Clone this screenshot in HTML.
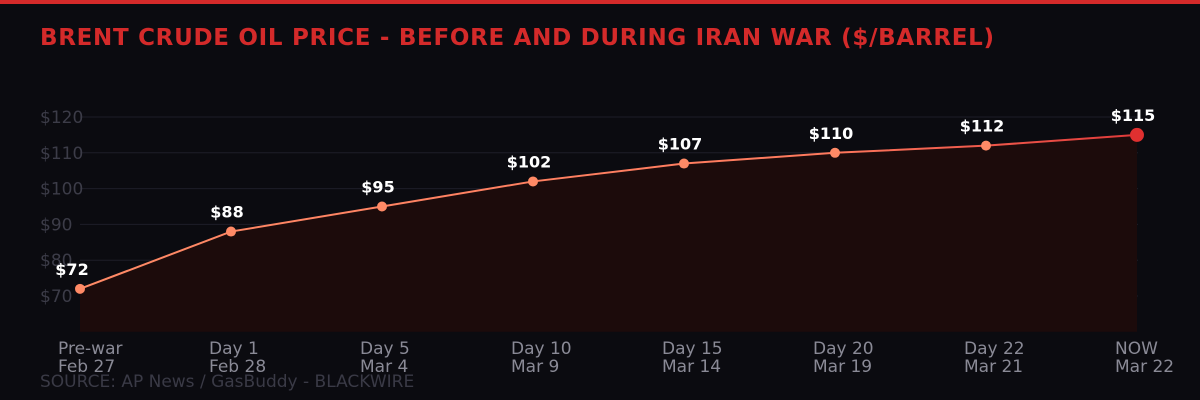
<!DOCTYPE html>
<html><head><meta charset="utf-8"><style>
html,body{margin:0;padding:0;background:#0b0b10;width:1200px;height:400px;overflow:hidden}
svg text{font-family:"DejaVu Sans","Liberation Sans",sans-serif}
</style></head><body>
<svg width="1200" height="400" xmlns="http://www.w3.org/2000/svg">
<defs><linearGradient id="lg" x1="0" x2="1" y1="0" y2="0"><stop offset="0" stop-color="#ff8a66"/><stop offset="0.7" stop-color="#ff7a5e"/><stop offset="1" stop-color="#e03a3a"/></linearGradient></defs>
<rect x="0" y="0" width="1200" height="4" fill="#d42a2a"/>
<text x="40" y="45" font-size="23" font-weight="bold" fill="#d42a2a" letter-spacing="0.7">BRENT CRUDE OIL PRICE - BEFORE AND DURING IRAN WAR ($/BARREL)</text>
<g id="grid"></g><g id="area"></g><g id="marks"></g><g id="xl"></g>
<text x="40" y="387" font-size="17" fill="#3a3a46">SOURCE: AP News / GasBuddy - BLACKWIRE</text>
</svg>
<script>
const cats1=["Pre-war","Day 1","Day 5","Day 10","Day 15","Day 20","Day 22","NOW"];
const cats2=["Feb 27","Feb 28","Mar 4","Mar 9","Mar 14","Mar 19","Mar 21","Mar 22"];
const values=[72,88,95,102,107,110,112,115];
const yTicks=[70,80,90,100,110,120];
const NS="http://www.w3.org/2000/svg";
const x=i=>80+i*151, y=v=>296-(v-70)*3.58, base=y(60);
function mk(t,a,p){const e=document.createElementNS(NS,t);for(const k in a)e.setAttribute(k,a[k]);p.appendChild(e);return e;}
const g=document.getElementById('grid');
yTicks.forEach(v=>{
 const l=mk('line',{x1:80,x2:1138,y1:y(v),y2:y(v),stroke:'#1e1e28','stroke-width':1},g);
 
 
 const t=mk('text',{x:40,y:y(v)+6,'font-size':17,fill:'#3c3c48'},g);t.textContent='$'+v;
 
 
});
let d='M'+x(0)+','+base;values.forEach((v,i)=>d+=' L'+x(i)+','+y(v));d+=' L'+x(values.length-1)+','+base+' Z';
const a=mk('path',{d:d,fill:'#1c0b0b'},document.getElementById('area'));


const m=document.getElementById('marks');
const ln=mk('polyline',{points:values.map((v,i)=>x(i)+','+y(v)).join(' '),fill:'none',stroke:'url(#lg)','stroke-width':2},m);


values.forEach((v,i)=>{
 const last=i===values.length-1;
 const c=mk('circle',{cx:x(i),cy:y(v),r:last?7:5,fill:last?'#e03030':'#ff8a66'},m);
 
 
 const t=mk('text',{x:x(i)+(i===0?-8:-4),y:y(v)-14,'font-size':16,'font-weight':'bold',fill:'#ffffff','text-anchor':'middle'},m);t.textContent='$'+v;
 
 
});
const xl=document.getElementById('xl');
cats1.forEach((c,i)=>{
 const t=mk('text',{x:x(i)-22,y:354,'font-size':17,fill:'#8a8a96'},xl);t.textContent=c;
 
 
 const t2=mk('text',{x:x(i)-22,y:372,'font-size':17,fill:'#8a8a96'},xl);t2.textContent=cats2[i];
 
 
});
</script>
</body></html>
